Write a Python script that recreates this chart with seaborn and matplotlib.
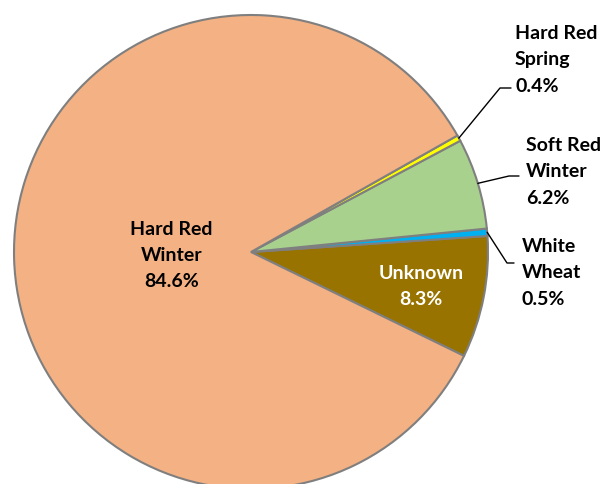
import numpy as np
import matplotlib
matplotlib.use("Agg")
import matplotlib.pyplot as plt
import seaborn as sns

# ==================================================
# Data (counter-clockwise from the lower right)
# ==================================================

classes = ["Unknown", "White\nWheat", "Soft Red\nWinter", "Hard Red\nSpring", "Hard Red\nWinter"]
shares = [8.3, 0.5, 6.2, 0.4, 84.6]
colors = ["#997300", "#00B0F0", "#A9D18E", "#FFFF00", "#F4B183"]

sns.set_theme(style="white")
plt.rcParams["font.family"] = ["Lato", "DejaVu Sans"]

fig = plt.figure(figsize=(6.04, 4.85), dpi=100)
ax = fig.add_axes([0, 0, 1, 1])

wedges, _ = ax.pie(
    shares,
    colors=colors,
    startangle=-26,
    counterclock=True,
    radius=1,
    wedgeprops=dict(edgecolor="#7F7F7F", linewidth=1.5),
)

# ==================================================
# Labels
# ==================================================

# pixel layout of the pie in the figure
cx, cy, rad = 251, 253, 237

# inside labels: (index, distance from center, text colour)
inside = {4: (0.335, "black"), 0: (0.73, "white")}
# outside labels: (index, text x, text y, elbow x, elbow y, end x) in pixels
outside = {
    3: (515, 60, 500, 89, 511),
    2: (526, 172, 509, 177, 519),
    1: (522, 273, 507, 264, 514),
}

for i, w in enumerate(wedges):
    mid = np.deg2rad((w.theta1 + w.theta2) / 2)
    txt = f"{classes[i]}\n{shares[i]}%"
    if i in inside:
        r, c = inside[i]
        ax.text(r * np.cos(mid), r * np.sin(mid), txt, ha="center", va="center",
                fontsize=14, fontweight="bold", color=c, linespacing=1.65)
    else:
        tx, ty, ex, ey, endx = [v / rad for v in outside[i]]
        tx, ex, endx = tx - cx / rad, ex - cx / rad, endx - cx / rad
        ty, ey = cy / rad - ty, cy / rad - ey
        px, py = np.cos(mid), np.sin(mid)
        ax.plot([px, ex, endx], [py, ey, ey], color="black", linewidth=1)
        ax.text(tx, ty, txt, ha="left", va="center",
                fontsize=14, fontweight="bold", color="black", linespacing=1.65)

ax.set_xlim(-cx / rad, (604 - cx) / rad)
ax.set_ylim(-(485 - cy) / rad, cy / rad)
ax.set_aspect("equal")
ax.axis("off")

plt.savefig("out.png", dpi=100)
plt.close()
